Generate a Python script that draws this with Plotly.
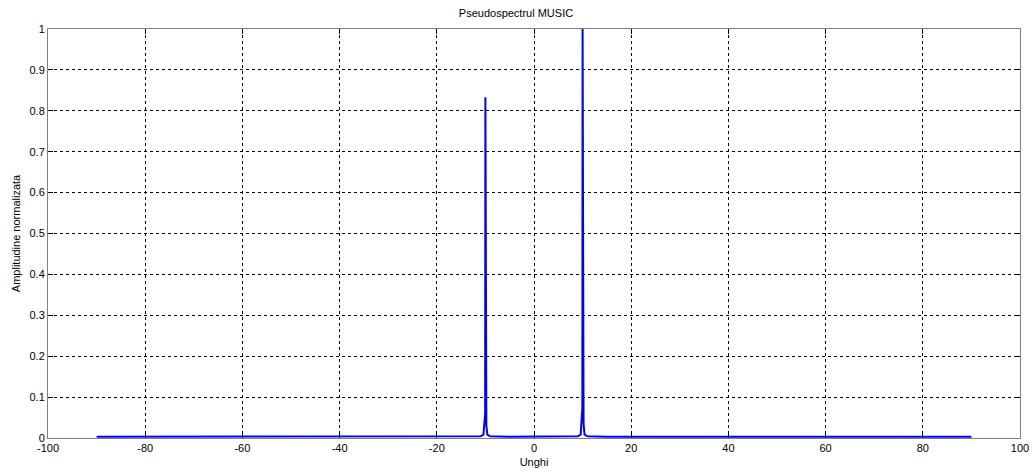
import plotly.graph_objects as go

angles = [-90, -30, -15, -11, -10.4, -10.2, -10.1, -10.05, -10.0, -9.95, -9.9, -9.8, -9.6, -9, -5, 0, 5, 9, 9.6, 9.8, 9.9, 9.95, 10.0, 10.05, 10.1, 10.2, 10.4, 11, 15, 30, 90]
amplitude = [0.003, 0.003, 0.003, 0.004, 0.008, 0.03, 0.055, 0.06, 0.833, 0.06, 0.055, 0.03, 0.008, 0.004, 0.003, 0.003, 0.003, 0.004, 0.008, 0.035, 0.065, 0.073, 1.0, 0.073, 0.065, 0.035, 0.008, 0.004, 0.003, 0.003, 0.003]

x_ticks = [-100, -80, -60, -40, -20, 0, 20, 40, 60, 80, 100]
y_ticks = [0, 0.1, 0.2, 0.3, 0.4, 0.5, 0.6, 0.7, 0.8, 0.9, 1]
y_labels = ["0", "0.1", "0.2", "0.3", "0.4", "0.5", "0.6", "0.7", "0.8", "0.9", "1"]

fig = go.Figure()
fig.add_trace(go.Scatter(x=angles, y=amplitude, mode="lines",
                         line=dict(color="#0000ff", width=2), showlegend=False))

font = dict(family="Liberation Sans, Arial, sans-serif", size=11, color="#000000")

fig.update_layout(
    width=1032, height=474,
    margin=dict(l=48, r=12, t=29, b=36, autoexpand=False),
    paper_bgcolor="white", plot_bgcolor="white",
    font=font,
    title=dict(text="Pseudospectrul MUSIC", x=0.5, xanchor="center", y=1 - 13/474, yanchor="middle",
               font=dict(family="Liberation Sans, Arial, sans-serif", size=11, color="#000000")),
    xaxis=dict(range=[-100, 100], tickvals=x_ticks, ticktext=[str(v) for v in x_ticks],
               automargin=False,
               showgrid=True, gridcolor="#000000", griddash="dot", gridwidth=1,
               zeroline=False, showline=True, linecolor="#808080", linewidth=1, mirror="ticks",
               ticks="inside", ticklen=5, tickcolor="#000000",
               title=dict(text="Unghi", standoff=5, font=font)),
    yaxis=dict(range=[0, 1], tickvals=y_ticks, ticktext=y_labels,
               automargin=False,
               showgrid=True, gridcolor="#000000", griddash="dot", gridwidth=1,
               zeroline=False, showline=True, linecolor="#808080", linewidth=1, mirror="ticks",
               ticks="inside", ticklen=5, tickcolor="#000000",
               title=dict(text="Amplitudine normalizata", standoff=6, font=font)),
)

fig.write_html("out.html")
